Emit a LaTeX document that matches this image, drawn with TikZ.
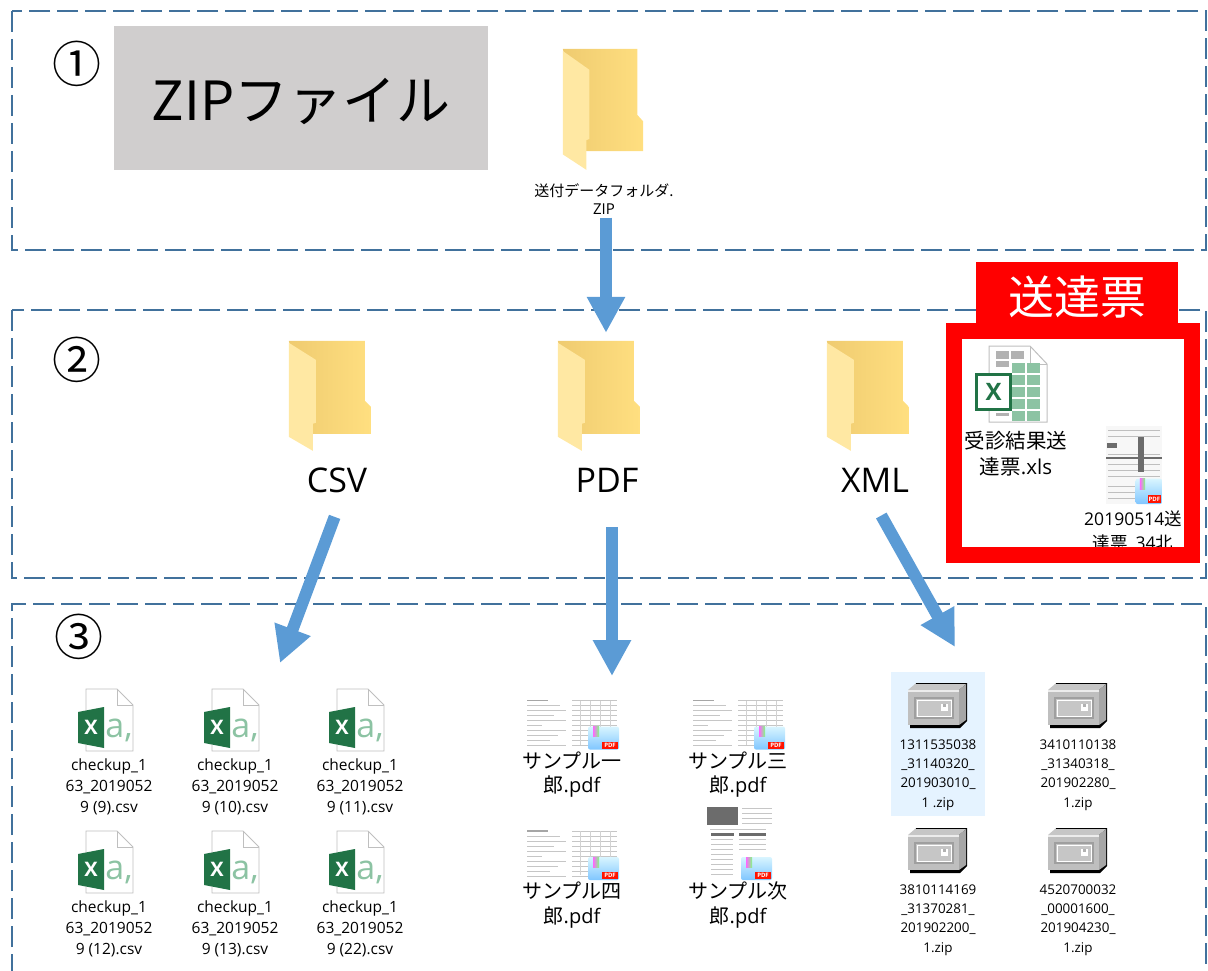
\documentclass[tikz,border=0pt]{standalone}
\usepackage{fontspec}
\setmainfont{Open Sans}
\newfontfamily\cjk{Noto Sans CJK JP}
\usetikzlibrary{arrows.meta}
\definecolor{dashblue}{HTML}{41719C}
\definecolor{flowblue}{HTML}{5B9BD5}
\definecolor{excelgreen}{HTML}{217346}
\definecolor{sheetgreen}{HTML}{8CC3A3}
\definecolor{titlegray}{HTML}{D0CECE}
\definecolor{selectblue}{HTML}{E5F3FF}
\definecolor{folderdark}{HTML}{EFCB70}
\definecolor{folderlight}{HTML}{FFDF80}
\definecolor{folderflap}{HTML}{FFE8A3}

\tikzset{
  pics/folder/.style={code={
    \path[left color=folderdark, right color=folderlight] (0,0) -- (76,0) -- (76,60) -- (82,66) -- (82,93) -- (24,93) -- cycle;
    \path[fill=folderflap] (0,2) -- (27,19) -- (27,82) -- (24,83) -- (24,110) -- (0,96) -- cycle;
  }},
  pics/csvicon/.style={code={
    \draw[gray!50, fill=white, line width=0.8] (-23,-98) -- (8,-98) -- (24,-82) -- (24,-36) -- (-23,-36) -- cycle;
    \draw[gray!50, line width=0.8] (8,-98) -- (8,-82) -- (24,-82);
    \path[fill=excelgreen] (-31,-75) -- (-5,-80) -- (-5,-39) -- (-31,-44) -- cycle;
    \node[text=white, font=\bfseries\fontsize{20}{20}\selectfont, inner sep=0] (-mark) at (-18,-60) {X};
    \node[text=sheetgreen, font=\fontsize{34}{34}\selectfont, inner sep=0] (-sheet) at (10,-57) {a,};
  }},
  pics/zipicon/.style={code={
    \path[fill=black] (-22,-92) -- (29,-92) -- (29,-54) -- (22,-47) -- (-28,-47) -- (-28,-50) -- cycle;
    \path[fill=gray!45] (-30,-85) -- (-23,-91) -- (28,-91) -- (21,-85) -- cycle;
    \path[fill=gray!70] (21,-85) -- (28,-91) -- (28,-55) -- (21,-50) -- cycle;
    \path[fill=gray!50] (-30,-85) rectangle (21,-50);
    \path[fill=gray!15] (-30,-85) rectangle (21,-83);
    \draw[gray!75, fill=gray!45, line width=1.5] (-23,-77) rectangle (15,-57);
    \draw[white, line width=1] (-21,-75) rectangle (13,-59);
    \path[fill=white] (3,-71) rectangle (10,-64);
    \path[fill=gray!60] (5,-71) rectangle (8,-68);
  }},
  pics/pdfbadge/.style={code={
    \path[rounded corners=2, top color=blue!25!cyan!15, bottom color=blue!45!cyan!50] (-31,-23) rectangle (0,0);
    \path[left color=magenta!60, right color=green!50] (-26,-23) rectangle (-20,-13);
    \path[fill=red!85!orange] (-17,-8) rectangle (-1,-1);
    \node[text=white, font=\bfseries\fontsize{6}{6}\selectfont, inner sep=0] (-tag) at (-9,-4.5) {PDF};
  }},
  pics/pdfwide/.style={code={
    \foreach \ypos/\xend in {-74/-24,-69/-12,-64/-6,-59/-18,-54/-6,-49/-30,-44/-6,-39/-14,-34/-22,-29/-6} {
      \draw[gray!45, line width=0.8] (-45,\ypos) -- (\xend,\ypos);
      \draw[gray!45, line width=0.8] (0,\ypos) -- (45,\ypos);
    }
    \draw[gray!70, line width=1.2] (-45,-74) -- (-24,-74);
    \foreach \xpos in {8,18,28,38} \draw[gray!35, line width=0.6] (\xpos,-74) -- (\xpos,-30);
    \pic (-badge) at (47,-25) {pdfbadge};
  }},
  pics/pdftall/.style={code={
    \path[fill=gray!85!black] (-31,-98) rectangle (0,-80);
    \foreach \ypos in {-97,-92,...,-82} \draw[gray!45, line width=0.8] (4,\ypos) -- (34,\ypos);
    \draw[gray!45, line width=0.8] (-28,-76) -- (28,-76);
    \path[fill=gray!85!black] (-27,-72) rectangle (-4,-69);
    \path[fill=gray!85!black] (1,-72) rectangle (28,-69);
    \foreach \ypos in {-66,-61,...,-27} \draw[gray!45, line width=0.8] (-27,\ypos) -- (-5,\ypos);
    \foreach \ypos in {-66,-61,...,-52} \draw[gray!45, line width=0.8] (1,\ypos) -- (28,\ypos);
    \pic (-badge) at (34,-25) {pdfbadge};
  }},
  pics/pdfform/.style={code={
    \path[fill=gray!6] (-27,-104) rectangle (29,-26);
    \foreach \ypos in {-100,-94,-76,-66,-60,-54,-44,-38,-32} \draw[gray!50, line width=0.8] (-25,\ypos) -- (27,\ypos);
    \path[fill=gray!85!black] (-26,-87) rectangle (-16,-82);
    \path[fill=gray!85!black] (5,-93) rectangle (11,-58);
    \path[fill=gray!85!black] (-27,-73) rectangle (29,-71);
    \pic[xscale=0.85, yscale=1.1] (-badge) at (29,-26) {pdfbadge};
  }},
  pics/xlsicon/.style={code={
    \draw[gray!50, fill=white, line width=1] (-27,-108) -- (14,-108) -- (31,-90) -- (31,-32) -- (-27,-32) -- cycle;
    \draw[gray!50, line width=1] (14,-108) -- (14,-90) -- (31,-90);
    \foreach \xpos in {-20,-5} \path[fill=gray!60] (\xpos,-103) rectangle ++(13,8);
    \path[fill=gray!60] (-20,-93) rectangle ++(13,6);
    \foreach \xpos in {-4,11} \foreach \ypos in {-91,-79,-67,-55,-43}
      \path[fill=sheetgreen] (\xpos,\ypos) rectangle ++(13,10);
    \path[fill=gray!60] (-20,-41) rectangle ++(13,3);
    \draw[excelgreen, fill=white, line width=3] (-39.5,-79.5) rectangle (-5.5,-44.5);
    \node[text=excelgreen, font=\bfseries\fontsize{24}{24}\selectfont, inner sep=0] (-mark) at (-22.5,-62) {X};
  }}
}

\begin{document}
\begin{tikzpicture}[
  x=1pt, y=-1pt,
  zone/.style={draw=dashblue, line width=2pt, dash pattern=on 21pt off 7pt},
  stepmark/.style={font=\cjk\fontsize{49}{49}\selectfont, inner sep=0},
  foldername/.style={font=\fontsize{34}{34}\selectfont, minimum height=34pt, inner sep=0},
  foldernode/.style={minimum width=82pt, minimum height=110pt, inner sep=0},
  csvname/.style={align=center, font=\fontsize{15.5}{21}\selectfont, inner sep=0},
  pdfname/.style={align=center, font=\fontsize{20}{24.5}\selectfont, inner sep=0},
  zipname/.style={align=center, font=\fontsize{13.4}{19.4}\selectfont, inner sep=0},
  flow/.style={-{Triangle[length=36pt,width=36pt]}, line width=12pt, draw=flowblue}
]
\useasboundingbox (0,0) rectangle (1208,971);

% three zones
\draw[zone] (12,11) rectangle (1206,250);
\draw[zone] (12,310) rectangle (1206,578);
\draw[zone] (12,975) -- (12,604) -- (1206,604) -- (1206,975);

\node[stepmark] (stepa) at (77,64) {①};
\node[stepmark] (stepb) at (77,360) {②};
\node[stepmark] (stepc) at (79,637) {③};

\node[fill=titlegray, minimum width=374pt, minimum height=144pt, inner sep=0, text height=55pt, text depth=10pt, font=\cjk\fontsize{54}{54}\selectfont, text=black] (ziptitle) at (301,98) {ZIPファイル};

% zone 1
\node[minimum width=80pt, minimum height=121pt, inner sep=0] (zipfolder) at (603,109.5) {};
\pic[xscale=0.98, yscale=1.1] at (zipfolder.north west) {folder};
\node[align=center, font=\fontsize{15}{18}\selectfont, inner sep=0] (zipfile) at (604,199) {{\cjk 送付データフォルダ.}\\ZIP};

% zone 2
\node[foldernode] (csvfolder) at (330,396) {};
\node[foldernode, right of=csvfolder, node distance=269pt] (pdffolder) {};
\node[foldernode, right of=pdffolder, node distance=269pt] (xmlfolder) {};
\foreach \n in {csvfolder,pdffolder,xmlfolder} \pic at (\n.north west) {folder};
\node[foldername] (csvlabel) at (337,480) {CSV};
\node[foldername, right of=csvlabel, node distance=270pt] (pdflabel) {PDF};
\node[foldername, right of=pdflabel, node distance=268pt] (xmllabel) {XML};

% zone 3
\node[csvname] (csva) at (109,787) {checkup\_1\\63\_2019052\\9 (9).csv};
\node[csvname, right of=csva, node distance=126pt] (csvb) {checkup\_1\\63\_2019052\\9 (10).csv};
\node[csvname, right of=csvb, node distance=125pt] (csvc) {checkup\_1\\63\_2019052\\9 (11).csv};
\node[csvname, below of=csva, node distance=142pt] (csvd) {checkup\_1\\63\_2019052\\9 (12).csv};
\node[csvname, right of=csvd, node distance=126pt] (csve) {checkup\_1\\63\_2019052\\9 (13).csv};
\node[csvname, right of=csve, node distance=125pt] (csvf) {checkup\_1\\63\_2019052\\9 (22).csv};
\foreach \n in {csva,csvb,csvc,csvd,csve,csvf} \pic (\n icon) at (\n) {csvicon};

\node[pdfname] (pdfa) at (572,774.5) {{\cjk サンプル一}\\{\cjk 郎}.pdf};
\node[pdfname, right of=pdfa, node distance=166pt] (pdfb) {{\cjk サンプル三}\\{\cjk 郎}.pdf};
\node[pdfname, below of=pdfa, node distance=130.5pt] (pdfc) {{\cjk サンプル四}\\{\cjk 郎}.pdf};
\node[pdfname, right of=pdfc, node distance=166pt] (pdfd) {{\cjk サンプル次}\\{\cjk 郎}.pdf};
\foreach \n in {pdfa,pdfb,pdfc} \pic (\n icon) at (\n) {pdfwide};
\pic (pdficon) at (pdfd) {pdftall};

\node[fill=selectblue, minimum width=94pt, minimum height=144pt, inner sep=0] (zipselect) at (938,744) {};
\node[zipname] (zipa) at (938,775) {1311535038\\\_31140320\_\\201903010\_\\1 .zip};
\node[zipname, right of=zipa, node distance=140pt] (zipb) {3410110138\\\_31340318\_\\201902280\_\\1.zip};
\node[zipname, below of=zipa, node distance=145pt] (zipc) {3810114169\\\_31370281\_\\201902200\_\\1.zip};
\node[zipname, right of=zipc, node distance=140pt] (zipd) {4520700032\\\_00001600\_\\201904230\_\\1.zip};
\foreach \n in {zipa,zipb,zipc,zipd} \pic (\n icon) at (\n) {zipicon};

% red frame
\node[align=center, font=\fontsize{20.5}{26}\selectfont, inner sep=0] (xlsname) at (1016,454) {{\cjk 受診結果送}\\{\cjk 達票}.xls};
\pic (xls) at (xlsname) {xlsicon};
\node[align=center, font=\fontsize{17.5}{24}\selectfont, inner sep=0] (formname) at (1133,531) {20190514{\cjk 送}\\{\cjk 達票}\_34{\cjk 北}};
\pic (form) at ([yshift=1pt]formname) {pdfform};
\node[draw=red, line width=16pt, minimum width=238pt, minimum height=224pt, inner sep=0] (redframe) at (1073,443) {};
\node[fill=red, text=white, minimum width=202pt, minimum height=61pt, inner sep=0, text height=50pt, text depth=6pt, font=\cjk\fontsize{46}{46}\selectfont] (redtab) at (1077,292.5) {送達票};

% arrows
\coordinate (csvtip) at (280,663);
\coordinate (pdftip) at (612,676);
\coordinate (xmltip) at (955,647);
\draw[flow, shorten <=3pt] ([xshift=2pt]zipfile.south) -- ([xshift=7pt,yshift=8pt]pdffolder.north);
\draw[flow, shorten <=21pt] ([xshift=5pt]csvlabel.south) -- (csvtip);
\draw[flow, shorten <=30pt] (pdflabel.south -| pdftip) -- (pdftip);
\draw[flow, shorten <=21pt] ([xshift=-4pt]xmllabel.south) -- (xmltip);
\end{tikzpicture}
\end{document}
